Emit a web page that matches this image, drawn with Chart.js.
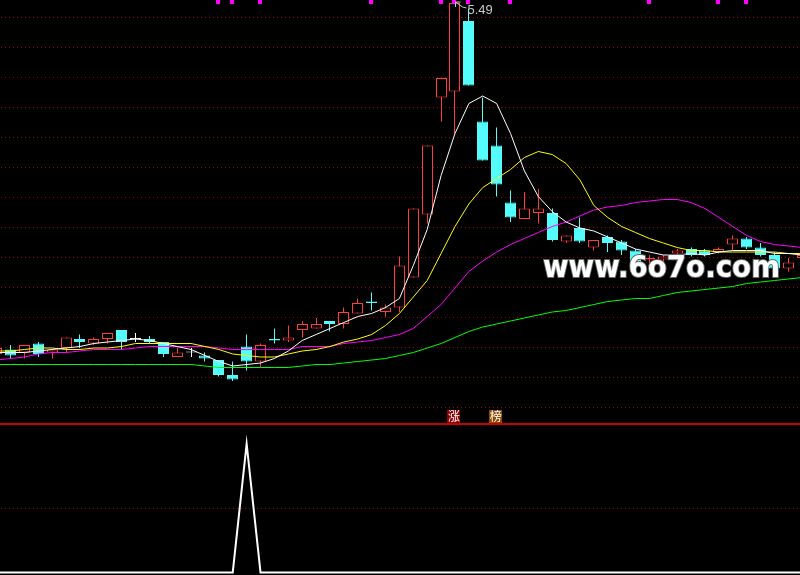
<!DOCTYPE html>
<html>
<head>
<meta charset="utf-8">
<script src="https://cdn.jsdelivr.net/npm/chart.js@4.4.0/dist/chart.umd.min.js"></script>
<style>
html, body { margin: 0; padding: 0; background: #000; }
#wrap { width: 800px; height: 575px; overflow: hidden; background: #000; }
canvas { display: block; }
</style>
</head>
<body>
<div id="wrap">
	<canvas id="kline" width="800" height="425"></canvas>
	<canvas id="signal" width="800" height="150"></canvas>
</div>
<script>
// daily bars, first one is cut off at the left edge (day -1)
var FIRST_DAY = -1
var OPEN  = [3.15,3.18,3.16,3.22,3.16,3.19,3.25,3.22,3.25,3.31,3.25,3.25,3.23,3.13,3.16,3.14,3.11,3.01,3.20,3.10,
             3.25,3.24,3.31,3.32,3.37,3.35,3.42,3.50,3.43,3.46,3.66,4.08,4.86,4.90,5.37,4.70,4.54,4.16,4.05,4.09,
             4.09,3.90,3.99,3.86,3.93,3.90,3.84,3.78,3.78,3.82,3.85,3.84,3.83,3.88,3.92,3.86,3.81,3.72,3.79]
var HIGH  = [3.20,3.21,3.21,3.23,3.18,3.26,3.28,3.26,3.29,3.31,3.29,3.27,3.23,3.19,3.19,3.16,3.11,3.10,3.28,3.22,
             3.32,3.34,3.37,3.39,3.37,3.46,3.52,3.56,3.48,3.80,4.12,4.54,4.99,5.49,5.45,4.86,4.66,4.24,4.23,4.25,
             4.12,3.94,4.06,3.91,3.94,3.91,3.85,3.81,3.81,3.85,3.86,3.85,3.86,3.94,3.93,3.89,3.83,3.79,3.82]
var LOW   = [3.14,3.12,3.12,3.13,3.12,3.16,3.19,3.21,3.22,3.18,3.23,3.22,3.13,3.13,3.13,3.10,3.00,2.97,3.04,3.06,
             3.22,3.23,3.26,3.32,3.30,3.32,3.42,3.44,3.40,3.43,3.66,4.02,4.70,4.62,4.94,4.44,4.20,4.03,4.05,4.02,
             3.90,3.89,3.89,3.84,3.83,3.81,3.75,3.75,3.73,3.81,3.80,3.80,3.82,3.84,3.85,3.80,3.71,3.70,3.78]
var CLOSE = [3.19,3.14,3.21,3.15,3.18,3.26,3.23,3.25,3.29,3.23,3.25,3.23,3.15,3.16,3.16,3.12,3.01,2.98,3.10,3.21,
             3.24,3.26,3.35,3.35,3.35,3.43,3.49,3.49,3.46,3.74,4.12,4.54,4.99,5.49,4.94,4.44,4.28,4.06,4.12,4.12,
             3.91,3.94,3.90,3.91,3.89,3.84,3.76,3.79,3.80,3.84,3.81,3.81,3.85,3.92,3.86,3.81,3.72,3.76,3.81]

// moving averages
var MA5  = [3.16,3.16,3.16,3.17,3.18,3.19,3.20,3.22,3.23,3.24,3.25,3.24,3.22,3.20,3.18,3.14,3.10,3.07,3.08,3.09,
            3.12,3.17,3.24,3.28,3.32,3.36,3.40,3.42,3.46,3.52,3.74,3.98,4.34,4.62,4.82,4.87,4.82,4.62,4.37,4.20,
            4.10,4.03,3.99,3.97,3.93,3.89,3.85,3.83,3.81,3.81,3.82,3.81,3.83,3.84,3.84,3.84,3.82,3.82,3.81]
var MA10 = [3.17,3.17,3.18,3.19,3.19,3.18,3.18,3.19,3.19,3.20,3.22,3.22,3.22,3.22,3.22,3.20,3.18,3.15,3.14,3.13,
            3.13,3.15,3.17,3.18,3.20,3.23,3.25,3.28,3.34,3.42,3.53,3.64,3.82,4.00,4.15,4.26,4.32,4.38,4.46,4.50,
            4.48,4.42,4.31,4.14,4.06,4.00,3.96,3.92,3.89,3.86,3.84,3.84,3.83,3.83,3.83,3.83,3.83,3.82,3.82]
var MA20 = [3.11,3.12,3.13,3.15,3.16,3.16,3.17,3.18,3.18,3.18,3.19,3.20,3.20,3.20,3.20,3.20,3.19,3.18,3.18,3.18,
            3.18,3.18,3.20,3.20,3.20,3.22,3.23,3.24,3.26,3.28,3.32,3.40,3.48,3.59,3.70,3.77,3.83,3.88,3.92,3.96,
            4.00,4.03,4.07,4.11,4.13,4.14,4.16,4.17,4.18,4.18,4.16,4.12,4.06,4.00,3.94,3.90,3.88,3.87,3.86]
var MA60 = [3.08,3.08,3.08,3.08,3.08,3.08,3.08,3.08,3.08,3.08,3.08,3.08,3.08,3.08,3.08,3.07,3.06,3.06,3.06,3.06,
            3.06,3.06,3.07,3.08,3.08,3.09,3.10,3.11,3.12,3.14,3.16,3.19,3.22,3.26,3.30,3.33,3.35,3.37,3.39,3.41,
            3.43,3.44,3.46,3.48,3.50,3.51,3.52,3.52,3.54,3.56,3.57,3.58,3.59,3.60,3.62,3.63,3.64,3.65,3.66]

// lower panel signal
var SIGNAL = [0,0,0,0,0,0,0,0,0,0,0,0,0,0,0,0,0,0,1,0,
              0,0,0,0,0,0,0,0,0,0,0,0,0,0,0,0,0,0,0,0,
              0,0,0,0,0,0,0,0,0,0,0,0,0,0,0,0,0,0,0]

var GRID_LEVELS = [2.8,3.0,3.2,3.4,3.6,3.8,4.0,4.2,4.4,4.6,4.8,5.0,5.2,5.4]
var MARK_DAYS = [15,16,18,26,31,32,33,36,46,51,53]
var TAG_DAYS = [32, 35]
var TAG_TEXT = ['涨', '榜']

// visible window
var X_MIN = -0.756, X_MAX = 56.84
var Y_MIN = 2.6767, Y_MAX = 5.51

var RED = '#ff3c3c', CYAN = '#54fcfc', GRID_RED = '#a00000'

function dayOf(k) { return FIRST_DAY + k }
function series(arr) {
	return arr.map(function(v, k) { return {x: dayOf(k), y: v} })
}
function kindOf(k) {
	if (CLOSE[k] > OPEN[k]) return 'up'
	if (CLOSE[k] < OPEN[k]) return 'down'
	return 'flat'
}
var EDGE = {up: RED, down: CYAN, flat: '#ffffff'}
var FILL = {up: '#000000', down: CYAN, flat: '#ffffff'}

function dottedGrid(chart, levels) {
	var ctx = chart.ctx, ys = chart.scales.y
	ctx.save()
	ctx.fillStyle = GRID_RED
	levels.forEach(function(v) {
		var py = Math.round(ys.getPixelForValue(v))
		for (var px = 1; px < chart.width; px += 4) ctx.fillRect(px, py, 1, 1)
	})
	ctx.restore()
}

var klineDecor = {
	id: 'klineDecor',
	beforeDatasetsDraw: function(chart) {
		dottedGrid(chart, GRID_LEVELS)
		// keep candle edges on whole pixels so the 1px outlines stay sharp
		chart.data.datasets.forEach(function(ds, i) {
			if (ds.type !== 'bar') return
			chart.getDatasetMeta(i).data.forEach(function(el) {
				el.x = Math.floor(el.x) + 0.5
			})
		})
	},
	afterDraw: function(chart) {
		var ctx = chart.ctx, xs = chart.scales.x, ys = chart.scales.y
		ctx.save()
		// markers along the top edge
		ctx.fillStyle = '#ff00ff'
		MARK_DAYS.forEach(function(d) {
			var px = Math.floor(xs.getPixelForValue(d))
			ctx.fillRect(px - 2, 0, 4, 4)
		})
		// highest price label
		var top = 0
		for (var k = 1; k < HIGH.length; k++) if (HIGH[k] > HIGH[top]) top = k
		var hx = Math.floor(xs.getPixelForValue(dayOf(top))) + 0.5, hy = ys.getPixelForValue(HIGH[top])
		ctx.strokeStyle = '#c8c8c8'
		ctx.lineWidth = 1
		ctx.beginPath()
		ctx.moveTo(hx + 12, hy + 5)
		ctx.lineTo(hx + 8, hy + 4)
		ctx.lineTo(hx + 1, hy - 1)
		ctx.moveTo(hx + 1, hy - 1)
		ctx.lineTo(hx + 1, hy + 4)
		ctx.moveTo(hx + 1, hy - 1)
		ctx.lineTo(hx + 6, hy - 1)
		ctx.stroke()
		ctx.fillStyle = '#c8c8c8'
		ctx.font = '13px "Liberation Sans", Arial, sans-serif'
		ctx.textBaseline = 'alphabetic'
		ctx.fillText(HIGH[top].toFixed(2), hx + 13, hy + 11)
		// tags near the bottom of the panel
		var tagBg = ['#8c0000', '#8c4a00']
		ctx.font = '12px "Noto Sans CJK SC", sans-serif'
		ctx.textAlign = 'center'
		ctx.textBaseline = 'middle'
		TAG_DAYS.forEach(function(d, i) {
			var px = xs.getPixelForValue(d) - 1
			ctx.fillStyle = tagBg[i]
			ctx.fillRect(Math.round(px - 6.5), 410, 13, 13)
			ctx.fillStyle = '#ffffff'
			ctx.fillText(TAG_TEXT[i], px, 416.5)
		})
		// panel separator
		ctx.fillStyle = '#c80000'
		ctx.fillRect(0, 423, chart.width, 2)
		// watermark
		ctx.font = 'bold 31px "DejaVu Sans", sans-serif'
		ctx.textAlign = 'left'
		ctx.textBaseline = 'alphabetic'
		var txt = 'www.6o7o.com'
		var w = ctx.measureText(txt).width
		ctx.translate(543, 277)
		ctx.scale(237 / w, 1)
		ctx.lineWidth = 2
		ctx.strokeStyle = '#6a6a6a'
		ctx.strokeText(txt, 0, 0)
		ctx.fillStyle = '#ffffff'
		ctx.fillText(txt, 0, 0)
		ctx.restore()
	}
}

var signalDecor = {
	id: 'signalDecor',
	beforeDatasetsDraw: function(chart) {
		dottedGrid(chart, [0.5])
	}
}

function lineSet(arr, color) {
	return {
		type: 'line', data: series(arr), borderColor: color, borderWidth: 1,
		pointRadius: 0, tension: 0, order: 0
	}
}

var kinds = OPEN.map(function(o, k) { return kindOf(k) })

new Chart(document.getElementById('kline'), {
	type: 'bar',
	data: {
		datasets: [
			lineSet(MA5, '#ffffff'),
			lineSet(MA10, '#ffff00'),
			lineSet(MA20, '#ff00ff'),
			lineSet(MA60, '#00ff00'),
			{
				type: 'bar', order: 1,
				data: OPEN.map(function(o, k) { return {x: dayOf(k), y: [o, CLOSE[k]]} }),
				backgroundColor: kinds.map(function(t) { return FILL[t] }),
				borderColor: kinds.map(function(t) { return EDGE[t] }),
				borderWidth: 1, borderSkipped: false, minBarLength: 1,
				barThickness: 11, grouped: false, inflateAmount: 0
			},
			{
				type: 'bar', order: 2,
				data: LOW.map(function(l, k) { return {x: dayOf(k), y: [l, HIGH[k]]} }),
				backgroundColor: kinds.map(function(t) { return EDGE[t] }),
				borderWidth: 0, barThickness: 1, grouped: false, inflateAmount: 0
			}
		]
	},
	options: {
		responsive: false, animation: false, devicePixelRatio: 1, events: [],
		layout: {padding: 0},
		plugins: {legend: {display: false}, tooltip: {enabled: false}},
		scales: {
			x: {type: 'linear', min: X_MIN, max: X_MAX, offset: false, display: false},
			y: {type: 'linear', min: Y_MIN, max: Y_MAX, display: false}
		}
	},
	plugins: [klineDecor]
})

new Chart(document.getElementById('signal'), {
	type: 'line',
	data: {
		datasets: [{
			data: series(SIGNAL), borderColor: '#ffffff', borderWidth: 2,
			pointRadius: 0, tension: 0
		}]
	},
	options: {
		responsive: false, animation: false, devicePixelRatio: 1, events: [],
		layout: {padding: 0},
		plugins: {legend: {display: false}, tooltip: {enabled: false}},
		scales: {
			x: {type: 'linear', min: X_MIN, max: X_MAX, offset: false, display: false},
			y: {type: 'linear', min: -0.02, max: 1.147, display: false}
		}
	},
	plugins: [signalDecor]
})
</script>
</body>
</html>
